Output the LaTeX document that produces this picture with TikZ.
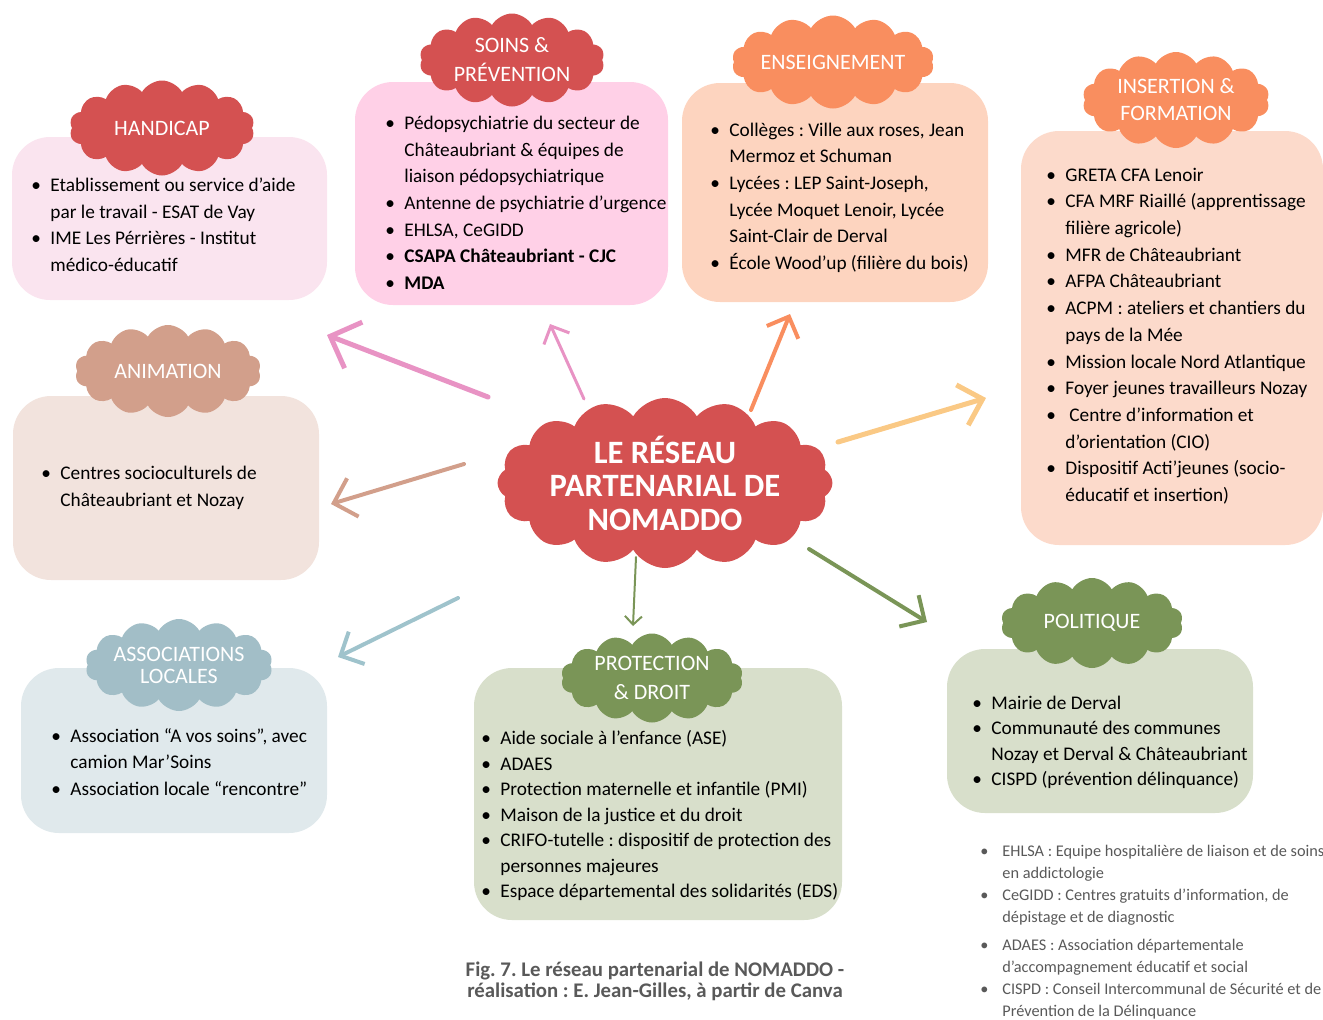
\documentclass[tikz,border=0pt]{standalone}
\usepackage{fontspec}
\setmainfont{Carlito}
\usetikzlibrary{shapes.symbols, arrows.meta}
\frenchspacing
\definecolor{redc}{HTML}{D45151}
\definecolor{orangec}{HTML}{F98E5F}
\definecolor{tanc}{HTML}{D29F8B}
\definecolor{bluec}{HTML}{A2BEC7}
\definecolor{greenc}{HTML}{7A9557}
\definecolor{pinkbox}{HTML}{FAE4EF}
\definecolor{rosebox}{HTML}{FFD0E7}
\definecolor{peachbox}{HTML}{FDD4BF}
\definecolor{apricotbox}{HTML}{FCDACB}
\definecolor{sandbox}{HTML}{F2E3DD}
\definecolor{mistbox}{HTML}{E0E9EC}
\definecolor{sagebox}{HTML}{D8DFCB}
\definecolor{pinkarr}{HTML}{E893C4}
\definecolor{yellowarr}{HTML}{FAC985}
\definecolor{bluearr}{HTML}{9FC3CC}
\definecolor{greyt}{HTML}{595959}
\tikzstyle{box}=[rounded corners=19pt, inner sep=0pt]
\tikzstyle{puff}=[cloud, cloud puffs=14, cloud puff arc=120, cloud ignores aspect, inner sep=0pt, text=white, align=center, font=\fontsize{11}{14.5}\selectfont]
\tikzstyle{list}=[anchor=base west, inner sep=0pt, align=left, font=\fontsize{9.65}{13.35}\selectfont]
\tikzstyle{arr}=[line cap=round, line join=round]
\newcommand{\bl}{\makebox[9.5pt][l]{\textbullet}}
\newcommand{\nb}{\hspace*{9.5pt}}
\newcommand{\sbl}{\makebox[11pt][l]{\textbullet}}
\newcommand{\snb}{\hspace*{11pt}}
\begin{document}
\begin{tikzpicture}[x=0.5pt, y=-0.5pt]
  \useasboundingbox (0,0) rectangle (1323,1019);
  \node [box, fill=pinkbox, minimum width=157.5pt, minimum height=81.5pt] (hand) at (169.5,218.5) {};
  \node [box, fill=rosebox, minimum width=156.5pt, minimum height=111.5pt] (soin) at (511.5,193.5) {};
  \node [box, fill=peachbox, minimum width=153pt, minimum height=109.5pt] (ens) at (835,192.5) {};
  \node [box, fill=apricotbox, minimum width=151pt, minimum height=207pt] (ins) at (1172,338) {};
  \node [box, fill=sandbox, minimum width=153pt, minimum height=92pt] (anim) at (166,488) {};
  \node [box, fill=mistbox, minimum width=153pt, minimum height=82.5pt] (asso) at (174,750.5) {};
  \node [box, fill=sagebox, minimum width=184pt, minimum height=126pt] (prot) at (658,794) {};
  \node [box, fill=sagebox, minimum width=153pt, minimum height=82pt] (poli) at (1100,731) {};

  \node [puff, fill=redc, minimum width=92.5pt, minimum height=47.5pt] (hand-t) at (162,128) {HANDICAP};
  \node [puff, fill=redc, minimum width=92.5pt, minimum height=46.5pt] (soin-t) at (512,60) {SOINS \&\\PRÉVENTION};
  \node [puff, fill=orangec, minimum width=92.5pt, minimum height=46.5pt] (ens-t) at (833,62) {ENSEIGNEMENT};
  \node [puff, fill=orangec, minimum width=93.5pt, minimum height=48pt, font=\fontsize{11}{13.5}\selectfont] (ins-t) at (1176,100) {INSERTION \&\\FORMATION};
  \node [puff, fill=tanc, minimum width=93pt, minimum height=46pt] (anim-t) at (168,371) {ANIMATION};
  \node [puff, fill=bluec, minimum width=91pt, minimum height=46pt, font=\fontsize{11}{11}\selectfont] (asso-t) at (179,665) {ASSOCIATIONS\\LOCALES};
  \node [puff, fill=greenc, minimum width=91pt, minimum height=44.5pt] (prot-t) at (652,678) {PROTECTION\\\& DROIT};
  \node [puff, fill=greenc, minimum width=91pt, minimum height=45pt] (poli-t) at (1092,623) {POLITIQUE};
  \node [puff, fill=redc, cloud puffs=16, minimum width=162.5pt, minimum height=85pt, font=\bfseries\fontsize{16.3}{16.75}\selectfont] (centre) at (665,483) {LE RÉSEAU\\PARTENARIAL DE\\NOMADDO};

  \node [list] (hand-l) at (31,271.5) {\bl Etablissement ou service d’aide\\\nb par le travail - ESAT de Vay\\\bl IME Les Pérrières - Institut\\\nb médico-éducatif};
  \node [list] (soin-l) at (385,289.5) {\bl Pédopsychiatrie du secteur de\\\nb Châteaubriant \& équipes de\\\nb liaison pédopsychiatrique\\\bl Antenne de psychiatrie d’urgence\\\bl EHLSA, CeGIDD\\\bl \textbf{CSAPA Châteaubriant - CJC}\\\bl \textbf{MDA}};
  \node [list] (ens-l) at (710,269.5) {\bl Collèges : Ville aux roses, Jean\\\nb Mermoz et Schuman\\\bl Lycées : LEP Saint-Joseph,\\\nb Lycée Moquet Lenoir, Lycée\\\nb Saint-Clair de Derval\\\bl École Wood’up (filière du bois)};
  \node [list] (ins-l) at (1046,501.5) {\bl GRETA CFA Lenoir\\\bl CFA MRF Riaillé (apprentissage\\\nb filière agricole)\\\bl MFR de Châteaubriant\\\bl AFPA Châteaubriant\\\bl ACPM : ateliers et chantiers du\\\nb pays de la Mée\\\bl Mission locale Nord Atlantique\\\bl Foyer jeunes travailleurs Nozay\\\bl\hspace{2pt}Centre d’information et\\\nb d’orientation (CIO)\\\bl Dispositif Acti’jeunes (socio-\\\nb éducatif et insertion)};
  \node [list] (anim-l) at (41,506.5) {\bl Centres socioculturels de\\\nb Châteaubriant et Nozay};
  \node [list] (asso-l) at (51,795.5) {\bl Association “A vos soins”, avec\\\nb camion Mar’Soins\\\bl Association locale “rencontre”};
  \node [list, font=\fontsize{9.65}{12.75}\selectfont] (prot-l) at (481,897.5) {\bl Aide sociale à l’enfance (ASE)\\\bl ADAES\\\bl Protection maternelle et infantile (PMI)\\\bl Maison de la justice et du droit\\\bl CRIFO-tutelle : dispositif de protection des\\\nb personnes majeures\\\bl Espace départemental des solidarités (EDS)};
  \node [list, font=\fontsize{9.65}{12.75}\selectfont] (poli-l) at (972,785.5) {\bl Mairie de Derval\\\bl Communauté des communes\\\nb Nozay et Derval \& Châteaubriant\\\bl CISPD (prévention délinquance)};

  \node [list, text=greyt, font=\fontsize{8.15}{11}\selectfont] (notes) at (980,1016.5) {\sbl EHLSA : Equipe hospitalière de liaison et de soins\\\snb en addictologie\\\sbl CeGIDD : Centres gratuits d’information, de\\\snb dépistage et de diagnostic\\[3pt]\sbl ADAES : Association départementale\\\snb d’accompagnement éducatif et social\\\sbl CISPD : Conseil Intercommunal de Sécurité et de\\\snb Prévention de la Délinquance};
  \node [anchor=base, inner sep=0pt, align=center, text=greyt, font=\bfseries\fontsize{10.4}{10.5}\selectfont] (caption) at (655,997.5) {Fig. 7. Le réseau partenarial de NOMADDO -\\réalisation : E. Jean-Gilles, à partir de Canva};

  \coordinate (a1) at (488,397);  \coordinate (b1) at (327,335);
  \coordinate (a2) at (584,399);  \coordinate (b2) at (550,324);
  \coordinate (a3) at (751,410);  \coordinate (b3) at (790,314);
  \coordinate (a4) at (838,442);  \coordinate (b4) at (986,398);
  \coordinate (a5) at (464,464);  \coordinate (b5) at (331,504);
  \coordinate (a6) at (458,598);  \coordinate (b6) at (338,657);
  \coordinate (a7) at (636,557);  \coordinate (b7) at (633,626);
  \coordinate (a8) at (809,549);  \coordinate (b8) at (927,622);
  \path [arr, pinkarr, line width=2.5pt, -{Straight Barb[length=12.4pt,width=24.7pt]}] (a1) edge (b1);
  \path [arr, pinkarr, line width=1.5pt, -{Straight Barb[length=7pt,width=14pt]}] (a2) edge (b2);
  \path [arr, orangec, line width=2pt, -{Straight Barb[length=8.5pt,width=17pt]}] (a3) edge (b3);
  \path [arr, yellowarr, line width=2.5pt, -{Straight Barb[length=10.6pt,width=21pt]}] (a4) edge (b4);
  \path [arr, tanc, line width=2pt, -{Straight Barb[length=10pt,width=20pt]}] (a5) edge (b5);
  \path [arr, bluearr, line width=2pt, -{Straight Barb[length=9pt,width=18pt]}] (a6) edge (b6);
  \path [arr, greenc, line width=1pt, -{Straight Barb[length=4.2pt,width=8.5pt]}] (a7) edge (b7);
  \path [arr, greenc, line width=2pt, -{Straight Barb[length=9.2pt,width=18.4pt]}] (a8) edge (b8);
\end{tikzpicture}
\end{document}
